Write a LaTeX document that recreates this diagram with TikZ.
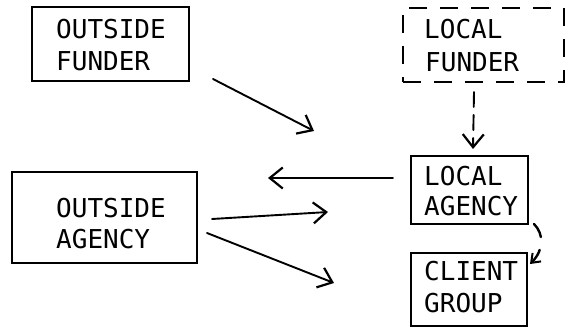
\documentclass[tikz,border=0pt]{standalone}
\usepackage{fontspec}
\setmonofont{DejaVu Sans Mono}
\usetikzlibrary{arrows.meta}
\begin{document}
\begin{tikzpicture}[x=1pt,y=-1pt,
  box/.style={draw, line width=1.4pt, inner sep=0pt},
  dbox/.style={box, dash pattern=on 18pt off 13pt},
  lbl/.style={font=\ttfamily\fontsize{26}{31}\selectfont, anchor=base west, inner sep=0pt},
  arr/.style={line width=1.9pt, line cap=round, -{Straight Barb[length=13pt,width=21pt,line width=2.2pt]}},
  darr/.style={arr, dash pattern=on 15pt off 8pt}]
\useasboundingbox (0,0) rectangle (569,331);
% boxes
\node[box,  minimum width=157pt, minimum height=74pt] (ofbox) at (110.5,44) {};
\node[dbox, minimum width=161pt, minimum height=74pt] (lfbox) at (483.5,45) {};
\node[box,  minimum width=117pt, minimum height=68pt] (labox) at (469.5,190) {};
\node[box,  minimum width=116pt, minimum height=73pt] (cgbox) at (469,289.5) {};
\node[box,  minimum width=185pt, minimum height=91pt] (oabox) at (104.5,217.5) {};
% labels
\node[lbl] (of1) at (56,39) {OUTSIDE};
\node[lbl] (of2) at (56,71) {FUNDER};
\node[lbl] (lf1) at (424,39) {LOCAL};
\node[lbl] (lf2) at (425,72) {FUNDER};
\node[lbl] (la1) at (424,185) {LOCAL};
\node[lbl] (la2) at (424,215) {AGENCY};
\node[lbl] (oa1) at (56,217) {OUTSIDE};
\node[lbl] (oa2) at (56,248) {AGENCY};
\node[lbl] (cg1) at (424,280) {CLIENT};
\node[lbl] (cg2) at (424,312) {GROUP};
% arrow end points
\coordinate (a1s) at (213,79);  \coordinate (a1e) at (314,131);
\coordinate (a2s) at (393,178); \coordinate (a2e) at (268,178);
\coordinate (a3s) at (212,219); \coordinate (a3e) at (328,212);
\coordinate (a4s) at (207,233); \coordinate (a4e) at (334,283);
\coordinate (a5s) at (474,92);  \coordinate (a5e) at (473,149);
\coordinate (a6s) at (534,224); \coordinate (a6e) at (530,264);
% arrows
\draw[arr] (a1s) -- (a1e);
\draw[arr] (a2s) -- (a2e);
\draw[arr] (a3s) -- (a3e);
\draw[arr] (a4s) -- (a4e);
\draw[darr] (a5s) -- (a5e);
\draw[line width=2.4pt, line cap=round, dash pattern=on 15pt off 13pt,
  -{Straight Barb[length=8pt,width=12pt,line width=2pt]}]
  (a6s) .. controls (544,234) and (544,250) .. (a6e);
\end{tikzpicture}
\end{document}
